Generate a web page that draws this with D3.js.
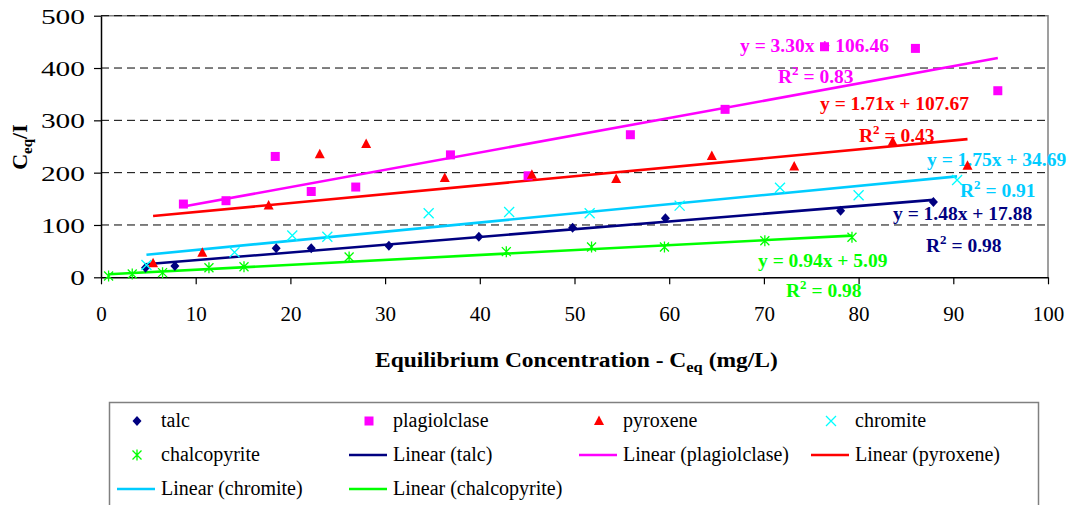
<!DOCTYPE html>
<html>
<head>
<meta charset="utf-8">
<script src="https://cdn.jsdelivr.net/npm/d3@7"></script>
<style>
  html, body { margin: 0; padding: 0; background: #fff; }
  svg, svg text { font-family: "Times New Roman", Times, "Liberation Serif", "DejaVu Serif", serif; }
</style>
</head>
<body>
<svg id="chart" width="1072" height="505"></svg>
<script>
// Sorption data: C_eq (mg/L) against C_eq / I for five minerals
const talcX = [4.7, 7.8, 18.5, 22.2, 30.4, 39.9, 49.8, 59.6, 78.1, 87.9];
const talcY = [18.4, 21.6, 55.4, 55.4, 60.4, 77.6, 94.8, 112.7, 127.3, 143.9];

const plagioclaseX = [8.7, 13.2, 18.4, 22.2, 26.9, 36.9, 45.1, 55.9, 65.9, 76.4, 86.0, 94.7];
const plagioclaseY = [140, 146.4, 231, 164, 172.5, 234, 194, 272.5, 321, 440.7, 437.5, 356.6];

const pyroxeneX = [5.5, 10.7, 17.7, 23.1, 28.0, 36.3, 45.5, 54.4, 64.5, 73.2, 83.6, 91.5];
const pyroxeneY = [26.7, 47, 137, 235, 254.7, 190, 196, 187.8, 232, 212, 259, 213];

const chromiteX = [4.8, 14.1, 20.2, 23.9, 34.6, 43.1, 51.6, 61.1, 71.7, 80.0, 90.4];
const chromiteY = [23.5, 47.8, 80, 77.6, 122.3, 124.8, 122.3, 137, 171.3, 156.7, 186];

const chalcopyriteX = [0.8, 3.3, 6.5, 11.4, 15.1, 26.2, 42.8, 51.8, 59.5, 70.1, 79.3];
const chalcopyriteY = [2.5, 6.3, 8.9, 18.4, 20.3, 38.8, 49, 58, 58, 70, 76.4];

// Linear fits (slope, intercept, R²) in series order
const seriesNames = ["talc", "plagiolclase", "pyroxene", "chromite", "chalcopyrite"];
const fitSlopes = [1.48, 3.30, 1.71, 1.75, 0.94];
const fitIntercepts = [17.88, 106.46, 107.67, 34.69, 5.09];
const fitR2 = [0.98, 0.83, 0.43, 0.91, 0.98];

const xTicks = [0, 10, 20, 30, 40, 50, 60, 70, 80, 90, 100];
const yTicks = [0, 100, 200, 300, 400, 500];

// Appearance per series
const markerColors = ["#000080", "#FF00FF", "#FF0000", "#00FFFF", "#00FF00"];
const lineColors = ["#000080", "#FF00FF", "#FF0000", "#00CCFF", "#00FF00"];
const markerShapes = ["diamond", "square", "triangle", "cross", "star"];

const seriesX = [talcX, plagioclaseX, pyroxeneX, chromiteX, chalcopyriteX];
const seriesY = [talcY, plagioclaseY, pyroxeneY, chromiteY, chalcopyriteY];

const FONT = '"Times New Roman", Times, "Liberation Serif", "DejaVu Serif", serif';

const svg = d3.select("#chart").style("font-family", FONT);
const plot = { left: 101, right: 1048, top: 15.7, bottom: 277.3 };

const x = d3.scaleLinear().domain([0, 100]).range([plot.left, plot.right]);
const y = d3.scaleLinear().domain([0, 500]).range([plot.bottom, plot.top]);

// Plot frame (top and right edges)
svg.append("path")
  .attr("d", `M${plot.left},${plot.top}H${plot.right}V${plot.bottom}`)
  .attr("fill", "none").attr("stroke", "#808080").attr("stroke-width", 1.5);

// Dashed horizontal gridlines
svg.append("g").selectAll("line")
  .data(yTicks.filter(d => d > 0))
  .join("line")
  .attr("x1", plot.left).attr("x2", plot.right)
  .attr("y1", d => y(d)).attr("y2", d => y(d))
  .attr("stroke", "#000").attr("stroke-width", 1)
  .attr("stroke-dasharray", "8,5");

// Axes
const xAxis = svg.append("g")
  .attr("transform", `translate(0,${plot.bottom})`)
  .call(d3.axisBottom(x).tickValues(xTicks).tickSize(7).tickPadding(22).tickSizeOuter(0));
const yAxis = svg.append("g")
  .attr("transform", `translate(${plot.left},0)`)
  .call(d3.axisLeft(y).tickValues(yTicks).tickSize(7).tickPadding(9).tickSizeOuter(0));

[xAxis, yAxis].forEach(g => {
  g.attr("font-family", null);
  g.select(".domain").attr("stroke", "#000").attr("stroke-width", 1.5);
  g.selectAll(".tick line").attr("stroke", "#000").attr("stroke-width", 1.2);
  g.selectAll(".tick text")
    .attr("fill", "#000")
    .style("font-family", FONT)
    .style("font-size", "21px");
});
// y labels are drawn wide
yAxis.selectAll(".tick text")
  .attr("dy", "0.34em")
  .style("font-size", "22px")
  .attr("textLength", d => String(d).length * 14.7)
  .attr("lengthAdjust", "spacingAndGlyphs");
xAxis.selectAll(".tick text").attr("dy", "0.72em");

// Axis titles
const xTitle = svg.append("text")
  .attr("transform", "translate(375,367) scale(1.175,1)")
  .style("font-size", "20px").style("font-weight", "bold");
xTitle.append("tspan").text("Equilibrium Concentration -  C");
xTitle.append("tspan").attr("dy", 5).style("font-size", "14px").text("eq");
xTitle.append("tspan").attr("dy", -5).text(" (mg/L)");

const yTitle = svg.append("text")
  .attr("transform", "translate(27,147) rotate(-90)")
  .attr("text-anchor", "middle")
  .style("font-size", "22px").style("font-weight", "bold");
yTitle.append("tspan").text("C");
yTitle.append("tspan").attr("dy", 5).style("font-size", "15px").text("eq");
yTitle.append("tspan").attr("dy", -5).text("/I");

// Trendlines spanning each series' x range
const line = d3.line().x(d => x(d[0])).y(d => y(d[1]));
svg.append("g").selectAll("path")
  .data(seriesNames.map((n, i) => i))
  .join("path")
  .attr("d", i => {
    const [x0, x1] = d3.extent(seriesX[i]);
    return line([[x0, fitSlopes[i] * x0 + fitIntercepts[i]], [x1, fitSlopes[i] * x1 + fitIntercepts[i]]]);
  })
  .attr("fill", "none")
  .attr("stroke", i => lineColors[i])
  .attr("stroke-width", 2.6);

// Equation and R² labels (left x, baseline y)
const eqPos = [[893, 220], [740, 52], [820, 110], [927, 166], [758, 267]];
const r2Pos = [[926, 252], [778, 83], [859, 142], [960, 197], [786, 297]];

const labels = svg.append("g").style("font-weight", "bold").style("font-size", "19.5px");
seriesNames.forEach((n, i) => {
  const fmt = d3.format(".2f");
  labels.append("text")
    .attr("x", eqPos[i][0]).attr("y", eqPos[i][1])
    .attr("fill", lineColors[i])
    .text(`y = ${fmt(fitSlopes[i])}x + ${fmt(fitIntercepts[i])}`);
  const r = labels.append("text")
    .attr("x", r2Pos[i][0]).attr("y", r2Pos[i][1])
    .attr("fill", lineColors[i]);
  r.append("tspan").text("R");
  r.append("tspan").attr("dy", -8).style("font-size", "13px").text("2");
  r.append("tspan").attr("dy", 8).text(` = ${fmt(fitR2[i])}`);
});

// Marker drawing
function drawMarker(g, shape, color, cx, cy) {
  if (shape === "diamond") {
    g.append("path").attr("d", `M${cx},${cy - 5}L${cx + 4.5},${cy}L${cx},${cy + 5}L${cx - 4.5},${cy}Z`).attr("fill", color);
  } else if (shape === "square") {
    g.append("rect").attr("x", cx - 4.5).attr("y", cy - 4.5).attr("width", 9).attr("height", 9).attr("fill", color);
  } else if (shape === "triangle") {
    g.append("path").attr("d", `M${cx},${cy - 5.5}L${cx + 5},${cy + 4}L${cx - 5},${cy + 4}Z`).attr("fill", color);
  } else if (shape === "cross") {
    g.append("path").attr("d", `M${cx - 5},${cy - 5}L${cx + 5},${cy + 5}M${cx - 5},${cy + 5}L${cx + 5},${cy - 5}`)
      .attr("stroke", color).attr("stroke-width", 1.3);
  } else if (shape === "star") {
    g.append("path").attr("d", `M${cx - 4.5},${cy - 4.5}L${cx + 4.5},${cy + 4.5}M${cx - 4.5},${cy + 4.5}L${cx + 4.5},${cy - 4.5}M${cx},${cy - 5.5}V${cy + 5.5}`)
      .attr("stroke", color).attr("stroke-width", 1.3);
  }
}

const markers = svg.append("g");
seriesNames.forEach((n, i) => {
  seriesX[i].forEach((v, j) => {
    drawMarker(markers, markerShapes[i], markerColors[i], x(v), y(seriesY[i][j]));
  });
});

// Legend
const legend = svg.append("g");
legend.append("rect")
  .attr("x", 109.5).attr("y", 402.5).attr("width", 929).attr("height", 120)
  .attr("fill", "#fff").attr("stroke", "#808080").attr("stroke-width", 1.5);

const legendItems = [
  ...seriesNames.map((n, i) => ({ label: n, kind: "marker", i })),
  ...seriesNames.map((n, i) => ({ label: `Linear (${n})`, kind: "line", i }))
];
const colText = [161, 393, 623, 855];
const rowBase = [427, 461, 495];
legendItems.forEach((item, k) => {
  const col = k % 4, row = Math.floor(k / 4);
  const tx = colText[col], ty = rowBase[row];
  if (item.kind === "marker") {
    drawMarker(legend, markerShapes[item.i], markerColors[item.i], tx - 24, ty - 6);
  } else {
    legend.append("line")
      .attr("x1", tx - 44).attr("x2", tx - 6)
      .attr("y1", ty - 6).attr("y2", ty - 6)
      .attr("stroke", lineColors[item.i]).attr("stroke-width", 2.6);
  }
  legend.append("text")
    .attr("x", tx).attr("y", ty)
    .style("font-size", "20px")
    .text(item.label);
});
</script>
</body>
</html>
